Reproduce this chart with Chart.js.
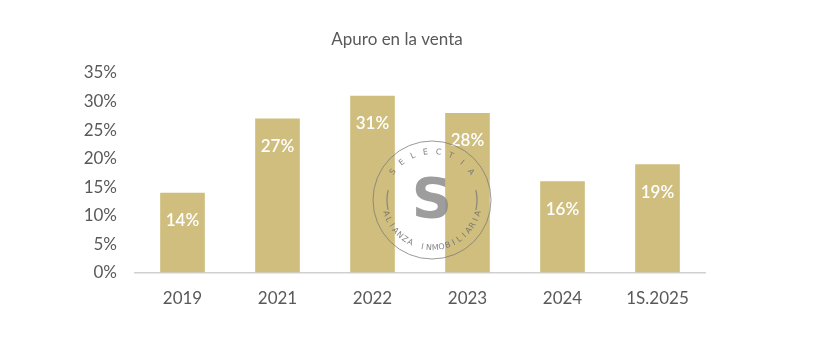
<!DOCTYPE html>
<html>
<head>
<meta charset="utf-8">
<script src="https://cdn.jsdelivr.net/npm/chart.js@4/dist/chart.umd.min.js"></script>
<style>
  html, body { margin: 0; padding: 0; background: #fff; }
  #wrap { width: 835px; height: 364px; }
</style>
</head>
<body>
<div id="wrap"><canvas id="apuroChart" width="835" height="364"></canvas></div>
<script>
// data
var categories = ['2019', '2021', '2022', '2023', '2024', '1S.2025'];
var apuroValues = [14, 27, 31, 28, 16, 19];
var yTicks = [0, 5, 10, 15, 20, 25, 30, 35];
var chartTitle = 'Apuro en la venta';

var barColor = '#CFBE7E';
var textGrey = '#595959';

// title drawn by hand so it sits where the original one does
var titleText = {
	id: 'titleText',
	afterDraw: function (chart) {
		var ctx = chart.ctx;
		ctx.save();
		ctx.font = '17px Lato';
		ctx.fillStyle = textGrey;
		ctx.textAlign = 'center';
		ctx.textBaseline = 'middle';
		ctx.fillText(chartTitle, 397, 40);
		ctx.restore();
	}
};

// white value labels just under the top of each bar
var barLabels = {
	id: 'barLabels',
	afterDatasetsDraw: function (chart) {
		var ctx = chart.ctx;
		var meta = chart.getDatasetMeta(0);
		ctx.save();
		ctx.font = '600 17px Lato';
		ctx.fillStyle = '#ffffff';
		ctx.textAlign = 'center';
		ctx.textBaseline = 'middle';
		meta.data.forEach(function (bar, i) {
			ctx.fillText(apuroValues[i] + '%', bar.x, bar.y + 28);
		});
		ctx.restore();
	}
};

// round stamp watermark over the middle of the chart
var stamp = {
	id: 'stamp',
	afterDraw: function (chart) {
		var ctx = chart.ctx;
		var cx = 432, cy = 200, r = 59;
		ctx.save();
		ctx.strokeStyle = 'rgba(120,120,120,0.75)';
		ctx.lineWidth = 1;
		ctx.beginPath();
		ctx.arc(cx, cy, r, 0, Math.PI * 2);
		ctx.stroke();
		// side arcs
		ctx.lineWidth = 1.3;
		ctx.beginPath();
		ctx.arc(cx, cy, r - 14, Math.PI * 0.93, Math.PI * 1.07);
		ctx.stroke();
		ctx.beginPath();
		ctx.arc(cx, cy, r - 14, -Math.PI * 0.07, Math.PI * 0.07);
		ctx.stroke();
		// big S
		ctx.fillStyle = 'rgba(140,140,140,0.85)';
		ctx.font = 'bold 56px "DejaVu Sans"';
		ctx.textAlign = 'center';
		ctx.textBaseline = 'middle';
		ctx.fillText('S', cx, cy + 2);
		// curved text
		ctx.font = '8px "DejaVu Sans"';
		ctx.fillStyle = 'rgba(110,110,110,0.85)';
		var top = 'SELECTIA'.split('');
		var step = 0.27;
		var start = -Math.PI / 2 - step * (top.length - 1) / 2;
		top.forEach(function (ch, i) {
			var a = start + i * step;
			ctx.save();
			ctx.translate(cx + Math.cos(a) * (r - 11), cy + Math.sin(a) * (r - 11));
			ctx.rotate(a + Math.PI / 2);
			ctx.fillText(ch, 0, 0);
			ctx.restore();
		});
		var bottom = 'ALIANZA INMOBILIARIA'.split('');
		var step2 = 0.135;
		var start2 = Math.PI / 2 + step2 * (bottom.length - 1) / 2;
		bottom.forEach(function (ch, i) {
			var a = start2 - i * step2;
			ctx.save();
			ctx.translate(cx + Math.cos(a) * (r - 11), cy + Math.sin(a) * (r - 11));
			ctx.rotate(a - Math.PI / 2);
			ctx.fillText(ch, 0, 0);
			ctx.restore();
		});
		ctx.restore();
	}
};

var ctx = document.getElementById('apuroChart').getContext('2d');
var apuroChart = new Chart(ctx, {
	type: 'bar',
	data: {
		labels: categories,
		datasets: [{
			label: chartTitle,
			data: apuroValues,
			backgroundColor: barColor,
			borderWidth: 0,
			categoryPercentage: 1,
			barPercentage: 0.47
		}]
	},
	options: {
		responsive: false,
		animation: false,
		layout: { padding: { left: 0, right: 130, top: 73, bottom: 39 } },
		plugins: {
			legend: { display: false },
			tooltip: { enabled: false },
			title: { display: false }
		},
		scales: {
			x: {
				grid: { display: false, drawTicks: false },
				border: { display: true, color: '#d0d0d0', width: 1.5 },
				ticks: {
					color: textGrey,
					font: { family: 'Lato', size: 17 },
					padding: 16
				}
			},
			y: {
				min: 0,
				max: 35,
				afterBuildTicks: function (scale) {
					scale.ticks = yTicks.map(function (v) { return { value: v }; });
				},
				afterFit: function (scale) { scale.width = 135; },
				grid: { display: false, drawTicks: false },
				border: { display: false },
				ticks: {
					color: textGrey,
					font: { family: 'Lato', size: 17 },
					padding: 18,
					callback: function (v) { return v + '%'; }
				}
			}
		}
	},
	plugins: [barLabels, stamp, titleText]
});
</script>
</body>
</html>
